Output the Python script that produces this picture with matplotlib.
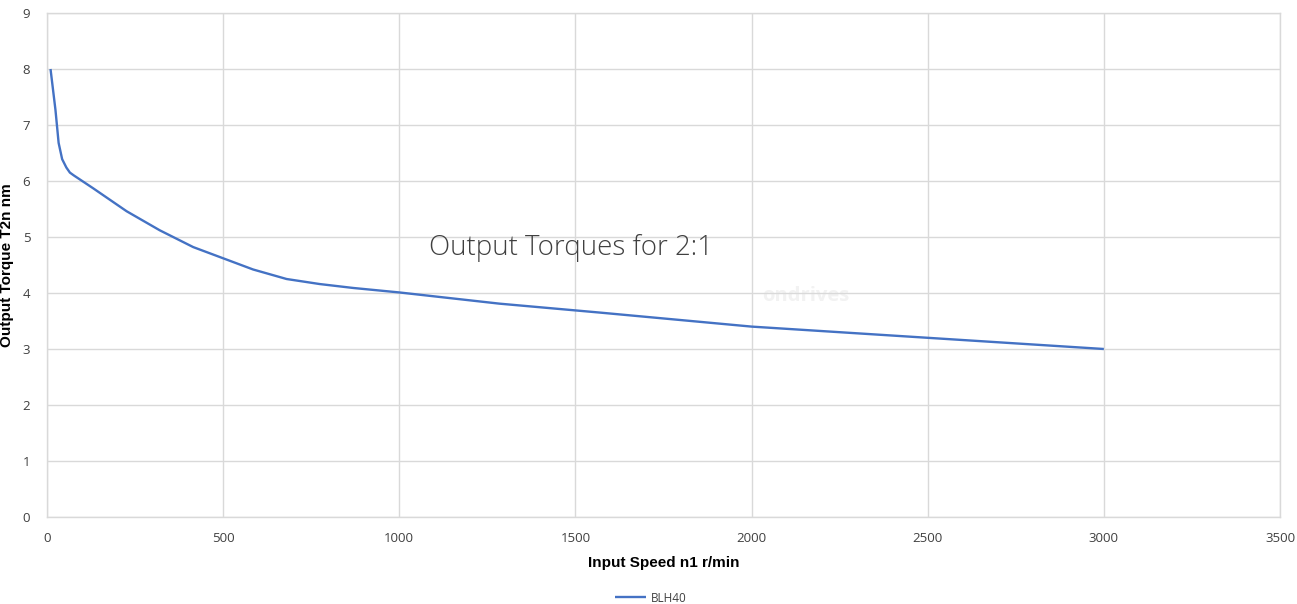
import numpy as np
import matplotlib.pyplot as plt

# ---- data ----
speed = [10, 24, 33, 43, 55, 65, 76, 131, 226, 320, 415, 500, 585, 680, 774, 869,
         1000, 1284, 1570, 2000, 2500, 3000]
torque = [8.0, 7.27, 6.68, 6.39, 6.24, 6.15, 6.10, 5.87, 5.46, 5.12, 4.82, 4.62, 4.42,
          4.25, 4.16, 4.09, 4.01, 3.81, 3.65, 3.40, 3.20, 3.00]
series_name = 'BLH40'
x_ticks = [0, 500, 1000, 1500, 2000, 2500, 3000, 3500]
y_ticks = [0, 1, 2, 3, 4, 5, 6, 7, 8, 9]

grid_col = '#d9d9d9'
tick_col = '#595959'

fig = plt.figure(figsize=(12.97, 6.04), dpi=100)
ax = fig.add_axes([47/1297, 1 - 517/604, (1280 - 47)/1297, (517 - 13)/604])

ax.plot(speed, torque, color='#4472C4', lw=1.7, label=series_name,
        solid_capstyle='butt', solid_joinstyle='round')

ax.set_xlim(0, 3500)
ax.set_ylim(0, 9)
ax.set_xticks(x_ticks)
ax.set_yticks(y_ticks)
ax.grid(True, color=grid_col, lw=1.0)
ax.set_axisbelow(True)
for s in ax.spines.values():
    s.set_color(grid_col)
    s.set_linewidth(1.0)
ax.tick_params(length=0, colors=tick_col, labelsize=9.5)
ax.tick_params(axis='x', pad=11)
ax.tick_params(axis='y', pad=12)
for lab in ax.get_xticklabels() + ax.get_yticklabels():
    lab.set_family('Open Sans')
    lab.set_color('#404040')

ax.set_xlabel('Input Speed n1 r/min', family='Liberation Sans', fontweight='bold',
              fontsize=11, labelpad=8)
ax.set_ylabel('Output Torque T2n nm', family='Liberation Sans', fontweight='bold',
              fontsize=11)
ax.yaxis.set_label_coords(-33/1233, 0.5)

# chart title placed inside the plot area
ax.text(1085, 4.8, 'Output Torques for 2:1', family='Open Sans', fontweight='light',
        fontsize=19.9, color='#404040', va='center', ha='left')
# faint watermark
ax.text(2154, 3.95, 'ondrives', family='Open Sans', fontweight='bold',
        fontsize=14.5, color='#f2f2f2', va='center', ha='center', zorder=0)

fig.legend(loc='center', bbox_to_anchor=(651/1297, 1 - 598/604), frameon=False,
           prop={'family': 'Open Sans', 'size': 8.5}, handlelength=2.6, handletextpad=0.4,
           labelcolor='#404040')

fig.savefig('out.png', dpi=100)
